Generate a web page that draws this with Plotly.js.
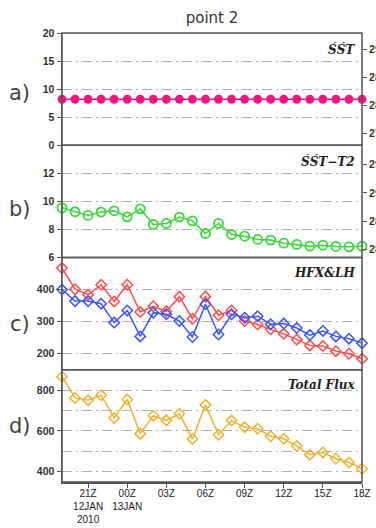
<!DOCTYPE html>
<html>
<head>
<meta charset="utf-8">
<script src="https://cdn.plot.ly/plotly-3.0.1.min.js"></script>
<style>html,body{margin:0;padding:0;background:#fff;}#chart{width:376px;height:528px;}</style>
</head>
<body>
<div id="chart"></div>
<script>
const times = ["2010-01-12 19:00","2010-01-12 20:00","2010-01-12 21:00","2010-01-12 22:00","2010-01-12 23:00",
  "2010-01-13 00:00","2010-01-13 01:00","2010-01-13 02:00","2010-01-13 03:00","2010-01-13 04:00","2010-01-13 05:00",
  "2010-01-13 06:00","2010-01-13 07:00","2010-01-13 08:00","2010-01-13 09:00","2010-01-13 10:00","2010-01-13 11:00",
  "2010-01-13 12:00","2010-01-13 13:00","2010-01-13 14:00","2010-01-13 15:00","2010-01-13 16:00","2010-01-13 17:00",
  "2010-01-13 18:00"];
const sst = [8.2,8.2,8.2,8.2,8.2,8.2,8.2,8.2,8.2,8.2,8.2,8.2,8.2,8.2,8.2,8.2,8.2,8.2,8.2,8.2,8.2,8.2,8.2,8.2];
const sstT2 = [9.54,9.26,9.0,9.24,9.33,8.9,9.47,8.36,8.43,8.88,8.61,7.71,8.43,7.64,7.52,7.29,7.24,7.02,6.93,6.81,6.88,6.79,6.76,6.81];
const hfx = [467,401,384,415,363,415,330,348,332,378,309,378,320,335,302,291,276,262,244,226,224,208,200,184];
const lh  = [400,364,364,356,297,335,254,328,323,302,252,354,260,323,312,317,292,294,280,258,271,254,247,233];
const total = [866,762,751,775,664,754,587,675,652,684,561,728,582,651,618,611,574,562,526,484,495,464,446,415];
const tickTimes = ["2010-01-12 21:00","2010-01-13 00:00","2010-01-13 03:00","2010-01-13 06:00","2010-01-13 09:00","2010-01-13 12:00","2010-01-13 15:00","2010-01-13 18:00"];
const tickLabels = ["21Z<br>12JAN<br>2010","00Z<br>13JAN","03Z","06Z","09Z","12Z","15Z","18Z"];
const panelLetters = ["a)","b)","c)","d)"];
const panelNames = ["ŚŚT","ŚŚT−T2","HFX&LH","Total Flux"];

const gridDash = "10px,4px,2px,4px";
const tickFont = {family:"Liberation Sans, Arial, sans-serif", size:10.5, color:"#333", weight:"bold"};
function yax(domain, range, tickvals, extra){
  return Object.assign({
    domain: domain, range: range, tickvals: tickvals,
    showgrid: true, gridcolor: "#b0b0b0", gridwidth: 1, griddash: gridDash,
    zeroline: false, showline: true, linecolor: "#555", linewidth: 1.5,
    ticks: "outside", ticklen: 4, tickcolor: "#555", tickfont: tickFont,
    anchor: "x", fixedrange: true
  }, extra || {});
}
function rax(overlay, range, tickvals, ticktext){
  return {overlaying: overlay, side: "right", anchor: "x", range: range, tickvals: tickvals, ticktext: ticktext,
    showgrid: false, zeroline: false, showline: false, ticks: "outside", ticklen: 4, tickcolor: "#555",
    tickfont: tickFont};
}

const data = [
  {x: times, y: sst, xaxis:"x", yaxis:"y", mode:"lines+markers", cliponaxis:false,
   line:{color:"#f5157f", width:1.5}, marker:{symbol:"circle", size:9, color:"#f5157f"}},
  {x: times, y: sstT2, xaxis:"x", yaxis:"y2", mode:"lines+markers", cliponaxis:false,
   line:{color:"#38d838", width:1.5}, marker:{symbol:"circle-open", size:9, color:"#38d838", line:{width:1.8}}},
  {x: times, y: hfx, xaxis:"x", yaxis:"y3", mode:"lines+markers", cliponaxis:false,
   line:{color:"#ff4a4a", width:1.5}, marker:{symbol:"diamond-open", size:8, color:"#ff4a4a", line:{width:1.5}}},
  {x: times, y: lh, xaxis:"x", yaxis:"y3", mode:"lines+markers", cliponaxis:false,
   line:{color:"#3a55ff", width:1.5}, marker:{symbol:"diamond-open", size:8, color:"#3a55ff", line:{width:1.5}}},
  {x: times, y: total, xaxis:"x", yaxis:"y4", mode:"lines+markers", cliponaxis:false,
   line:{color:"#f0b030", width:1.5}, marker:{symbol:"diamond-open", size:8, color:"#f0b030", line:{width:1.5}}},
  {x: [], y: [], xaxis:"x", yaxis:"y5", hoverinfo:"skip"},
  {x: [], y: [], xaxis:"x", yaxis:"y6", hoverinfo:"skip"}
];

const doms = [[0.75,1],[0.5,0.75],[0.25,0.5],[0,0.25]];
const letterY = [93,209,324,426];
const nameY = [49,161,273,385];
const annotations = [];
for (let i=0;i<4;i++){
  annotations.push({xref:"paper", yref:"paper", x:-0.14, y:(482-letterY[i])/449, text:panelLetters[i],
    showarrow:false, xanchor:"center", yanchor:"middle",
    font:{family:"DejaVu Sans, sans-serif", size:21, color:"#444"}});
  annotations.push({xref:"paper", yref:"paper", x:(357-62)/300, y:(482-nameY[i])/449, text:panelNames[i],
    showarrow:false, xanchor:"right", yanchor:"middle",
    font:{family:"DejaVu Serif, serif", size:12, color:"#222", weight:"bold", style:"italic"}});
}
const shapes = doms.map(d => ({type:"rect", xref:"paper", yref:"paper", x0:0, x1:1, y0:d[0], y1:d[1],
  line:{color:"#555", width:1.5}, fillcolor:"rgba(0,0,0,0)", layer:"above"}));

const layout = {
  width: 376, height: 528,
  margin: {l:62, r:14, t:33, b:46},
  paper_bgcolor: "#fff", plot_bgcolor: "#fff",
  showlegend: false,
  title: {text:"point 2", x:0.5638, xanchor:"center", y:0.966, yanchor:"middle",
    font:{family:"DejaVu Sans, sans-serif", size:15, color:"#333"}},
  xaxis: {type:"date", range:[times[0], times[times.length-1]], anchor:"y4",
    tickvals: tickTimes, ticktext: tickLabels, ticks:"outside", ticklen:4, tickcolor:"#555",
    ticklabelstandoff: -3,
    showgrid:false, zeroline:false, showline:true, linecolor:"#555", linewidth:1.5,
    tickfont:{family:"Liberation Sans, Arial, sans-serif", size:10, color:"#222"}, fixedrange:true},
  yaxis: yax(doms[0], [0,20], [0,5,10,15,20]),
  yaxis2: yax(doms[1], [6,14], [6,8,10,12]),
  yaxis3: yax(doms[2], [150,500], [200,300,400]),
  yaxis4: yax(doms[3], [350,900], [400,600,800],
    {minor:{tickvals:[500,700], showgrid:true, gridcolor:"#b0b0b0", gridwidth:1, griddash:gridDash, ticks:""}}),
  yaxis5: rax("y", [27.29,29.29], [27.5,28,28.5,29], ["27.5","28.0","28.5","29.0"]),
  yaxis6: rax("y2", [27.86,29.84], [28,28.5,29,29.5], ["28.0","28.5","29.0","29.5"]),
  annotations: annotations,
  shapes: shapes
};
Plotly.newPlot("chart", data, layout, {displayModeBar:false, staticPlot:true});
</script>
</body>
</html>
